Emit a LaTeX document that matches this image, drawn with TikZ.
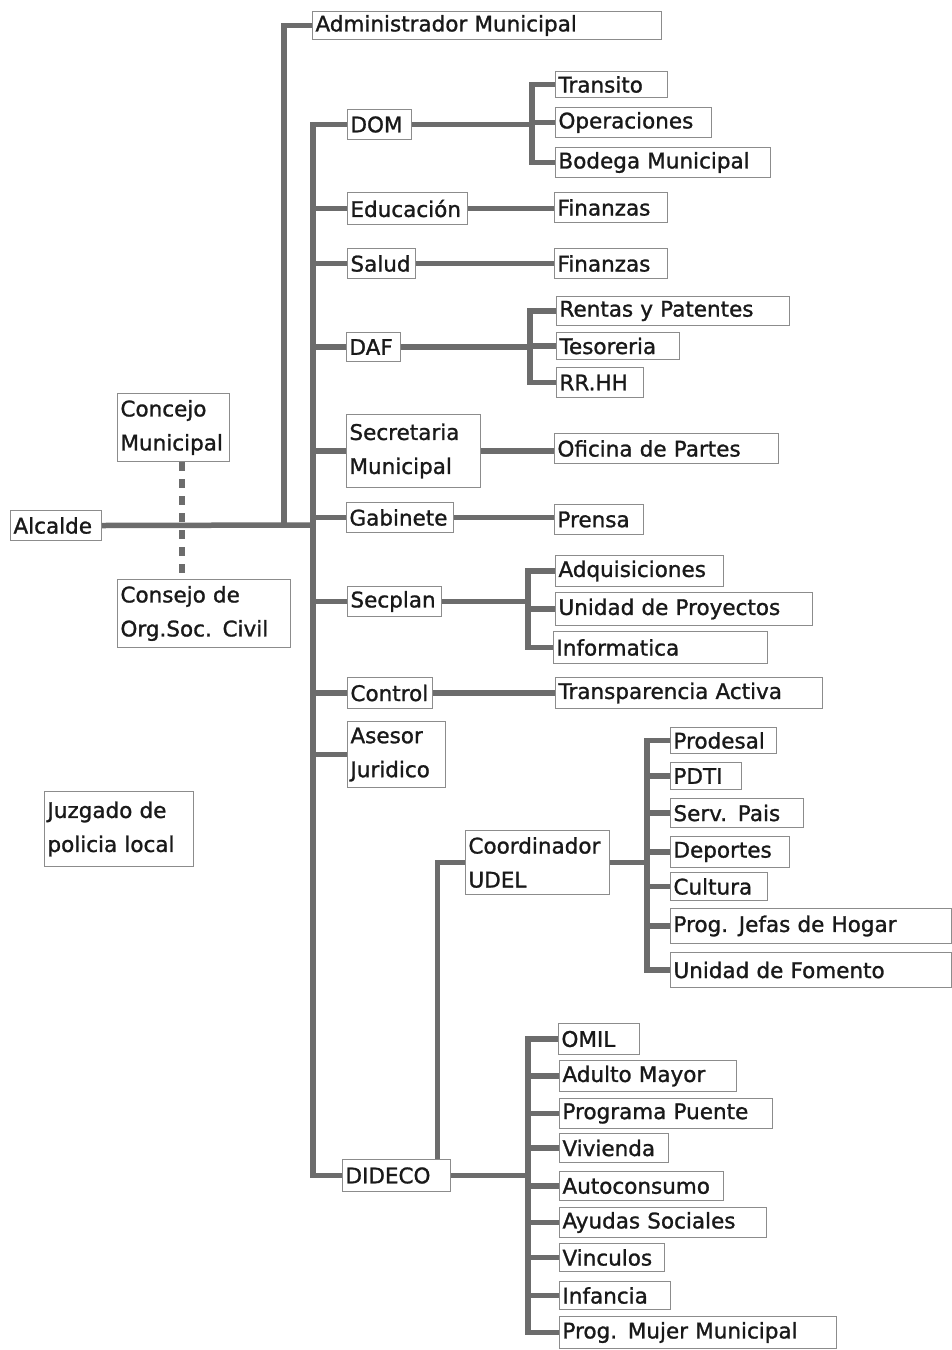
\documentclass[tikz,border=0pt]{standalone}
\usepackage{fontspec}
\setmainfont{DejaVu Sans}
\newfontfamily\boxfont[FakeBold=1.2]{DejaVu Sans}
\definecolor{lineg}{RGB}{108,108,108}
\definecolor{boxg}{RGB}{140,140,140}
\definecolor{txt}{RGB}{25,25,25}
\tikzset{
  box/.style={draw=boxg, line width=1pt, fill=white, anchor=north west,
    inner xsep=3pt, inner ysep=0pt, align=left,
    font=\boxfont\fontsize{21.5}{34}\selectfont, text=txt},
  conn/.style={draw=lineg, line width=5.5pt},
  dashc/.style={draw=lineg, line width=6pt, dash pattern=on 9pt off 8pt}
}
\newcommand\bx[6]{%
  \pgfmathsetmacro\bxw{#4-#2-6}%
  \pgfmathsetmacro\bxh{#5-#3}%
  \node[box, text width=\bxw pt, minimum height=\bxh pt] (#1) at (#2,#3) {#6};}
\begin{document}
\begin{tikzpicture}[x=1pt,y=-1pt]
\useasboundingbox[fill=white] (0,0) rectangle (951,1350);
% left side
\bx{alcalde}{10}{510}{101}{540}{Alcalde}
\bx{concejo}{117}{393}{229}{461}{Concejo\\Municipal}
\bx{consejo}{117}{579}{290}{647}{Consejo de\\Org.Soc. Civil}
\bx{juzgado}{44}{791}{193}{866}{Juzgado de\\policia local}
% top
\bx{admin}{312}{11}{661}{39}{Administrador Municipal}
% departments
\bx{dom}{347}{109}{411}{139}{DOM}
\bx{educ}{347}{192}{467}{224}{Educación}
\bx{salud}{347}{248}{415}{278}{Salud}
\bx{daf}{346}{332}{400}{361}{DAF}
\bx{secre}{346}{414}{480}{487}{Secretaria\\Municipal}
\bx{gabinete}{346}{502}{453}{532}{Gabinete}
\bx{secplan}{347}{586}{441}{616}{Secplan}
\bx{control}{347}{677}{432}{708}{Control}
\bx{asesor}{347}{721}{445}{787}{Asesor\\Juridico}
\bx{coord}{465}{830}{609}{894}{Coordinador\\UDEL}
\bx{dideco}{342}{1159}{450}{1191}{DIDECO}
% DOM children
\bx{transito}{555}{71}{667}{97}{Transito}
\bx{oper}{555}{107}{711}{137}{Operaciones}
\bx{bodega}{555}{147}{770}{177}{Bodega Municipal}
% single children
\bx{fin1}{554}{192}{667}{222}{Finanzas}
\bx{fin2}{554}{248}{667}{278}{Finanzas}
% DAF children
\bx{rentas}{556}{296}{789}{325}{Rentas y Patentes}
\bx{tesoreria}{556}{332}{679}{359}{Tesoreria}
\bx{rrhh}{556}{367}{643}{397}{RR.HH}
\bx{oficina}{554}{433}{778}{463}{Oficina de Partes}
\bx{prensa}{554}{504}{643}{534}{Prensa}
% Secplan children
\bx{adquis}{555}{555}{723}{586}{Adquisiciones}
\bx{unidadp}{555}{592}{812}{625}{Unidad de Proyectos}
\bx{informatica}{553}{631}{767}{663}{Informatica}
\bx{transp}{555}{677}{822}{708}{Transparencia Activa}
% UDEL children
\bx{prodesal}{670}{727}{776}{753}{Prodesal}
\bx{pdti}{670}{762}{741}{789}{PDTI}
\bx{serv}{670}{798}{803}{827}{Serv. Pais}
\bx{deportes}{670}{836}{789}{867}{Deportes}
\bx{cultura}{670}{872}{767}{900}{Cultura}
\bx{jefas}{670}{908}{951}{943}{Prog. Jefas de Hogar}
\bx{fomento}{670}{952}{951}{987}{Unidad de Fomento}
% DIDECO children
\bx{omil}{558}{1023}{639}{1054}{OMIL}
\bx{adulto}{559}{1060}{736}{1091}{Adulto Mayor}
\bx{puente}{559}{1098}{772}{1128}{Programa Puente}
\bx{vivienda}{559}{1133}{668}{1162}{Vivienda}
\bx{autocons}{559}{1171}{723}{1200}{Autoconsumo}
\bx{ayudas}{559}{1207}{766}{1237}{Ayudas Sociales}
\bx{vinculos}{559}{1243}{664}{1271}{Vinculos}
\bx{infancia}{559}{1281}{670}{1309}{Infancia}
\bx{mujer}{559}{1316}{836}{1348}{Prog. Mujer Municipal}
% junctions
\coordinate (tr) at (313,525);
\coordinate (ad) at (284,525);
\coordinate (bdom) at (532,0);
\coordinate (bdaf) at (530,0);
\coordinate (bsec) at (528,0);
\coordinate (budel) at (647,0);
\coordinate (bdid) at (528,0);
\coordinate (dx) at (182,0);
% main connectors
\draw[conn] (alcalde.east) -- (tr);
\draw[conn] (admin.west) -| (ad);
\draw[conn] (dom.west) -| (tr);
\draw[conn] (dideco.west) -| (tr);
\draw[conn] (tr |- educ.west) -- (educ.west);
\draw[conn] (tr |- salud.west) -- (salud.west);
\draw[conn] (tr |- daf.west) -- (daf.west);
\draw[conn] (tr |- secre.west) -- (secre.west);
\draw[conn] (tr |- gabinete.west) -- (gabinete.west);
\draw[conn] (tr |- secplan.west) -- (secplan.west);
\draw[conn] (tr |- control.west) -- (control.west);
\draw[conn] (tr |- asesor.west) -- (asesor.west);
% dashed link
\draw[dashc] (concejo.south -| dx) -- (consejo.north -| dx);
% DOM
\draw[conn] (dom.east) -- (bdom |- dom.east);
\draw[conn] (transito.west) -| (bdom |- bodega.west) -- (bodega.west);
\draw[conn] (bdom |- oper.west) -- (oper.west);
% Educacion, Salud
\draw[conn] (educ.east) -- (educ.east -| fin1.west);
\draw[conn] (salud.east) -- (salud.east -| fin2.west);
% DAF
\draw[conn] (daf.east) -- (bdaf |- daf.east);
\draw[conn] (rentas.west) -| (bdaf |- rrhh.west) -- (rrhh.west);
\draw[conn] (bdaf |- tesoreria.west) -- (tesoreria.west);
% Secretaria, Gabinete
\draw[conn] (secre.east) -- (secre.east -| oficina.west);
\draw[conn] (gabinete.east) -- (gabinete.east -| prensa.west);
% Secplan
\draw[conn] (secplan.east) -- (bsec |- secplan.east);
\draw[conn] (adquis.west) -| (bsec |- informatica.west) -- (informatica.west);
\draw[conn] (bsec |- unidadp.west) -- (unidadp.west);
% Control
\draw[conn] (control.east) -- (control.east -| transp.west);
% UDEL
\draw[conn] (coord.west) -| ([xshift=41pt]dideco.north);
\draw[conn] (coord.east) -- (budel |- coord.east);
\draw[conn] (prodesal.west) -| (budel |- fomento.west) -- (fomento.west);
\foreach \n in {pdti,serv,deportes,cultura,jefas}
  \draw[conn] (budel |- \n.west) -- (\n.west);
% DIDECO
\draw[conn] (dideco.east) -- (bdid |- dideco.east);
\draw[conn] (omil.west) -| (bdid |- mujer.west) -- (mujer.west);
\foreach \n in {adulto,puente,vivienda,autocons,ayudas,vinculos,infancia}
  \draw[conn] (bdid |- \n.west) -- (\n.west);
\end{tikzpicture}
\end{document}
